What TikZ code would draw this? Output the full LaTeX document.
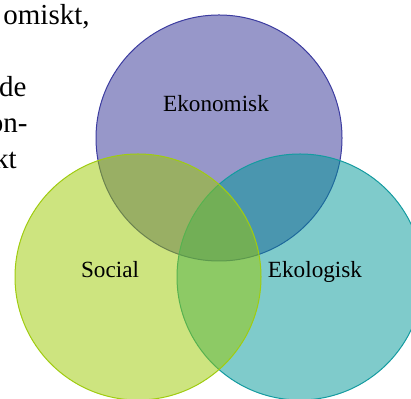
\documentclass[tikz,border=0pt]{standalone}
\usepackage{fontspec}
\setmainfont{Liberation Serif}
\usetikzlibrary{positioning}

\definecolor{ekofill}{RGB}{47,47,147}
\definecolor{ekoline}{RGB}{60,60,160}
\definecolor{socfill}{RGB}{155,201,0}
\definecolor{socline}{RGB}{160,204,16}
\definecolor{ekolfill}{RGB}{0,151,151}
\definecolor{ekolline}{RGB}{20,155,160}

\begin{document}
\begin{tikzpicture}
      [x=0.5pt,y=-0.5pt,
       ring/.style={circle,minimum size=123pt,inner sep=0pt,
                    fill opacity=0.5,line width=0.5pt},
       ringlabel/.style={font=\fontsize{11.6}{14}\selectfont,anchor=base},
       bodyline/.style={font=\fontsize{14.5}{18}\selectfont,anchor=base east,inner sep=0pt}]
    \useasboundingbox (0,0) rectangle (411,399);
    \clip (0,0) rectangle (411,399);

    % cut off body text to the left
    \node[bodyline] (line1) at (90,25)  {omiskt,};
    \node[bodyline] (line2) at (27,97)  {de};
    \node[bodyline] (line3) at (28,133) {on-};
    \node[bodyline] (line4) at (17,169) {kt};

    % the three circles
    \node[ring,draw=ekoline,fill=ekofill]   (eko)  at (219,138) {};
    \node[ring,draw=ekolline,fill=ekolfill] (ekol) at (300,277) {};
    \node[ring,draw=socline,fill=socfill]   (soc)  at (138,277) {};

    \node[ringlabel] (ekotext)  at (216,112) {Ekonomisk};
    \node[ringlabel] (soctext)  at (110,278) {Social};
    \node[ringlabel] (ekoltext) at (315,278) {Ekologisk};
\end{tikzpicture}
\end{document}
